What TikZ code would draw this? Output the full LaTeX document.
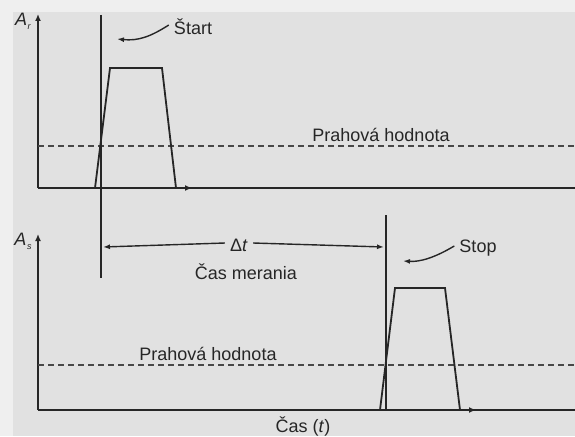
\documentclass[tikz,border=0pt]{standalone}
\usepackage{fontspec}
\setmainfont{Liberation Sans}
\usetikzlibrary{arrows.meta}
\definecolor{outerbg}{HTML}{EFEFEF}
\definecolor{innerbg}{HTML}{E1E1E1}
\definecolor{ink}{HTML}{262626}
\begin{document}
\begin{tikzpicture}[x=1pt,y=-1pt,
  lbl/.style={inner sep=0pt,text=ink,font=\fontsize{18}{20}\selectfont},
  axis/.style={draw=ink,line width=1.8pt,-{Latex[length=7,width=6]}},
  trace/.style={draw=ink,line width=1.8pt,line join=miter},
  marker/.style={draw=ink,line width=1.8pt},
  thresh/.style={draw=ink!85,line width=1.3pt,dash pattern=on 6pt off 4pt},
  pointer/.style={draw=ink,line width=1.4pt,-{Latex[length=7,width=5]}},
  dim/.style={draw=ink,line width=1.4pt,-{Latex[length=7,width=5]}}]
\useasboundingbox (0,0) rectangle (575,436);
\fill[outerbg] (0,0) rectangle (575,436);
\fill[innerbg] (13,12) rectangle (575,436);

% coordinates
\coordinate (o1) at (38,188);
\coordinate (y1) at (38,14);
\coordinate (x1) at (575,188);
\coordinate (o2) at (38,410);
\coordinate (y2) at (38,234);
\coordinate (x2) at (575,410);
\coordinate (st1) at (101,15);
\coordinate (st2) at (101,278);
\coordinate (sp1) at (386,215);
\coordinate (sp2) at (386,410);
\coordinate (th1a) at (38,146);
\coordinate (th1b) at (575,146);
\coordinate (th2a) at (38,365);
\coordinate (th2b) at (575,365);

% axes
\draw[axis] (o1) -- (y1);
\draw[marker] (o1) -- (x1);
\draw[axis] (o2) -- (y2);
\draw[marker] (o2) -- (x2);

% thresholds
\draw[thresh] (th1a) -- (th1b);
\draw[thresh] (th2a) -- (th2b);

% pulses
\coordinate (p1a) at (88,188);
\coordinate (p1e) at (192,188);
\draw[trace,-{Latex[length=7,width=6]}] (p1a) -- (95,188) -- (110,68) -- (162,68) -- (176,188) -- (p1e);
\coordinate (p2a) at (373,410);
\coordinate (p2e) at (476,410);
\draw[trace,-{Latex[length=7,width=6]}] (p2a) -- (380,410) -- (395,288) -- (445,288) -- (460,410) -- (p2e);

% start / stop lines
\draw[marker] (st1) -- (st2);
\draw[marker] (sp1) -- (sp2);

% labels
\node[lbl] (ar) at (23,21) {\textit{A}\kern0.5pt\raisebox{-4pt}{\fontsize{9}{10}\selectfont\textit{r}}};
\node[lbl] (as) at (23,241) {\textit{A}\kern0.5pt\raisebox{-4pt}{\fontsize{9}{10}\selectfont\textit{s}}};
\node[lbl] (start) at (193,27) {Štart};
\node[lbl] (stop) at (478,248) {Stop};
\node[lbl] (pr1) at (381,135) {Prahová hodnota};
\node[lbl] (pr2) at (208,354) {Prahová hodnota};
\node[lbl] (dt) at (239,245) {Δ\textit{t}};
\node[lbl] (cm) at (246,272) {Čas merania};
\node[lbl] (cas) at (303,426) {Čas (\textit{t})};

% pointers
\coordinate (startTip) at (117,39);
\coordinate (stopTip) at (403,261);
\draw[pointer] ([xshift=-5pt,yshift=2pt]start.west) .. controls (150,37) and (138,41) .. (startTip);
\draw[pointer] ([xshift=-5pt,yshift=2pt]stop.west) .. controls (434,258) and (420,262) .. (stopTip);

% delta t dimension
\coordinate (dL) at (103,247);
\coordinate (dR) at (384,247);
\draw[dim] ([xshift=-5pt,yshift=2pt]dt.west) -- (dL);
\draw[dim] ([xshift=5pt,yshift=2pt]dt.east) -- (dR);
\end{tikzpicture}
\end{document}
